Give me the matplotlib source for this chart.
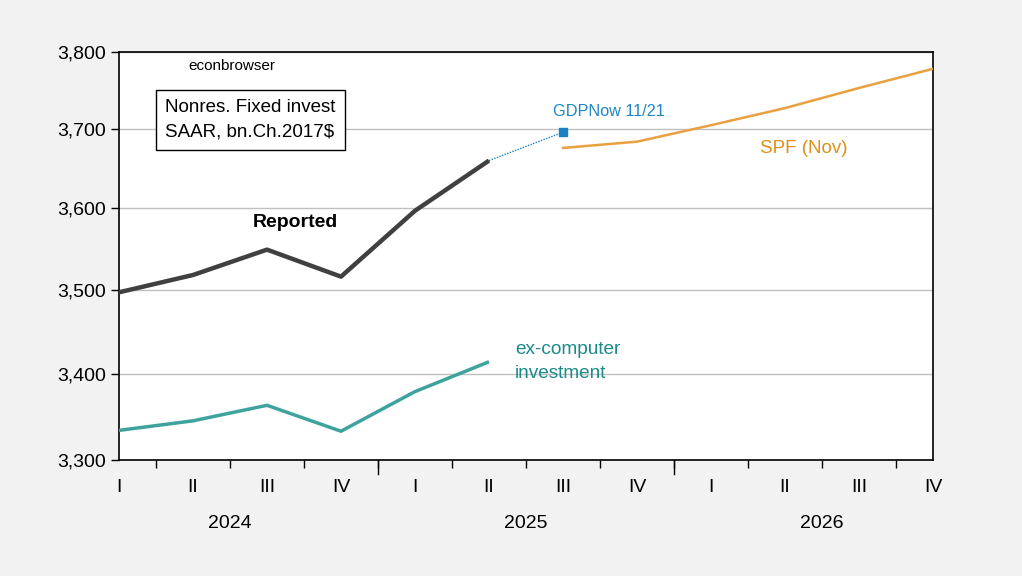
import matplotlib
matplotlib.use("Agg")
import matplotlib.pyplot as plt
from matplotlib.ticker import FixedLocator, NullLocator, FuncFormatter

plt.rcParams['font.family'] = ['Liberation Sans', 'DejaVu Sans']

quarters = ["I", "II", "III", "IV", "I", "II", "III", "IV", "I", "II", "III", "IV"]
years = ["2024", "2025", "2026"]

reported = [3497, 3518, 3549, 3516, 3597, 3660]
ex_computer = [3334, 3345, 3363, 3333, 3379, 3414]
gdpnow = [3660, 3696]          # 2025Q2 -> 2025Q3
spf = [3676, 3684, 3705, 3727, 3753, 3778]  # 2025Q3 .. 2026Q4

yticks = [3300, 3400, 3500, 3600, 3700, 3800]

fig = plt.figure(figsize=(10.22, 5.76), dpi=100)
fig.patch.set_facecolor('#f2f2f2')
ax = fig.add_axes([119/1022, 1-460/576, (933-119)/1022, (460-52)/576])
ax.set_facecolor('white')

x_rep = list(range(len(reported)))
x_ex = list(range(len(ex_computer)))
x_gdp = [5, 6]
x_spf = list(range(6, 6 + len(spf)))

ax.set_yscale('log')
ax.set_ylim(3300, 3800)
ax.set_xlim(0, 11)
ax.yaxis.set_major_locator(FixedLocator(yticks))
ax.yaxis.set_minor_locator(NullLocator())
ax.yaxis.set_major_formatter(FuncFormatter(lambda v, p: f"{int(round(v)):,}"))
ax.grid(axis='y', color='#c0c0c0', lw=1)
ax.set_axisbelow(True)

ax.plot(x_ex, ex_computer, color='#3fa39d', lw=2.5, solid_capstyle='butt', zorder=3)
ax.plot(x_rep, reported, color='#404040', lw=3.2, solid_capstyle='butt', zorder=4)
ax.plot(x_gdp, gdpnow, color='#1a80c0', lw=1, ls=(0, (1, 1)), zorder=3)
ax.plot([x_gdp[-1]], [gdpnow[-1]], marker='s', ms=6, color='#1a80c0', zorder=5)
ax.plot(x_spf, spf, color='#e8a040', lw=1.8, zorder=3)

# x axis ticks
ax.set_xticks(range(12))
ax.set_xticklabels(quarters, fontsize=14)
ax.tick_params(axis='x', length=0, pad=14)
minor_pos = [i + 0.5 for i in range(11)]
ax.set_xticks(minor_pos, minor=True)
ax.tick_params(axis='x', which='minor', length=6, width=1, direction='out')
for xb in [3.5, 7.5]:
    ax.plot([xb, xb], [0, -0.035], transform=ax.get_xaxis_transform(), color='black', lw=1, clip_on=False)
ax.tick_params(axis='y', labelsize=14, length=6, width=1, direction='out')
for s in ax.spines.values():
    s.set_linewidth(1.2)
    s.set_color('black')

for i, yr in enumerate(years):
    ax.text(1.5 + 4 * i, -0.155, yr, transform=ax.get_xaxis_transform(), ha='center', va='center', fontsize=14)

# annotations
ax.text(1.53, 3781, "econbrowser", fontsize=11, ha='center', va='center')
ax.text(0.62, 3712, "Nonres. Fixed invest\nSAAR, bn.Ch.2017$", fontsize=13.5, ha='left', va='center',
        linespacing=1.55,
        bbox=dict(boxstyle='square,pad=0.5', fc='white', ec='black', lw=1))
ax.text(2.385, 3583, "Reported", fontsize=14, fontweight='bold', ha='center', va='center')
ax.text(6.615, 3722, "GDPNow 11/21", fontsize=11.7, color='#1f86c6', ha='center', va='center')
ax.text(9.25, 3675, "SPF (Nov)", fontsize=13.5, color='#e0901a', ha='center', va='center')
ax.text(5.35, 3414, "ex-computer\ninvestment", fontsize=13.7, color='#1a8a8a', ha='left', va='center',
        linespacing=1.55)

fig.savefig('out.png', dpi=100, facecolor=fig.get_facecolor())
